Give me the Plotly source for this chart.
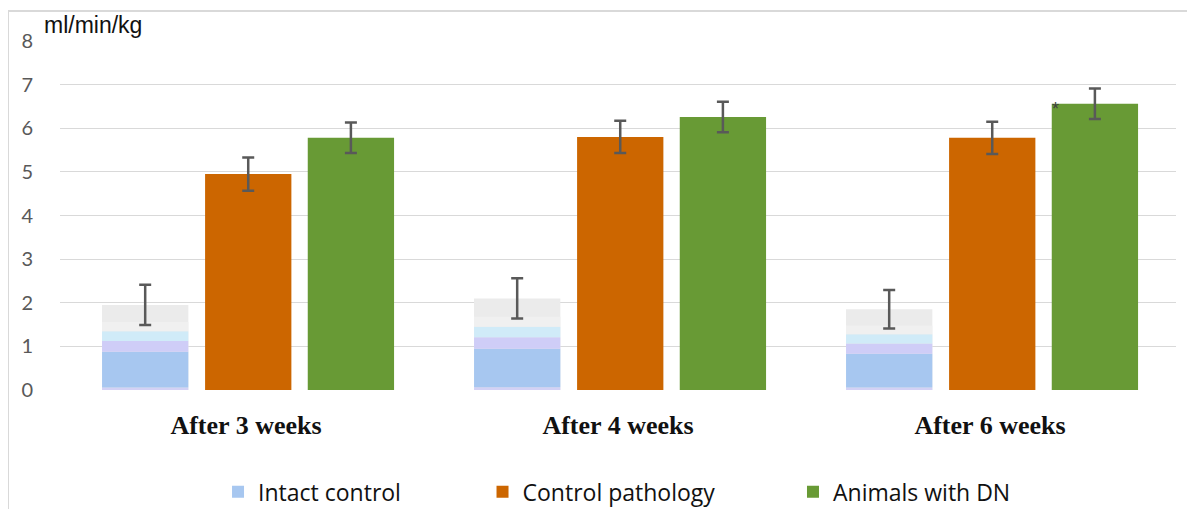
import plotly.graph_objects as go

categories = ["After 3 weeks", "After 4 weeks", "After 6 weeks"]
intact = [1.95, 2.10, 1.85]
intact_err = [0.46, 0.46, 0.44]
pathology = [4.95, 5.80, 5.78]
pathology_err = [0.38, 0.37, 0.37]
dn = [5.78, 6.26, 6.56]
dn_err = [0.35, 0.35, 0.35]
series_names = ["Intact control", "Control pathology", "Animals with DN"]
y_unit = "ml/min/kg"

W = 0.232
OFF = [-0.387, -0.11, 0.166]
ERR_COLOR = "#595959"

fig = go.Figure()

def err(vals):
    return dict(type="data", array=vals, visible=True, color=ERR_COLOR, thickness=2.5, width=6)

# Intact control: full bar (top gray part)
fig.add_trace(go.Bar(x=categories, y=intact, width=W, offset=OFF[0],
                     marker=dict(color="#ebebeb", line=dict(width=0)),
                     showlegend=False, hoverinfo="skip"))
# gradient-like bands inside intact bar (fractions of bar height)
bands = [
    (0.0, 0.03, "#d3d1f5"),
    (0.03, 0.45, "#a7c7f0"),
    (0.45, 0.575, "#cfcdf7"),
    (0.575, 0.69, "#d0ebf8"),
    (0.69, 0.80, "#f0f0f0"),
]
for i, (a, b, c) in enumerate(bands):
    fig.add_trace(go.Bar(x=categories, y=[v * (b - a) for v in intact],
                         base=[v * a for v in intact], width=W, offset=OFF[0],
                         marker=dict(color=c, line=dict(width=0)),
                         name=series_names[0], showlegend=(i == 1), legend="legend",
                         hoverinfo="skip"))
# error bars for intact control drawn on top
fig.add_trace(go.Bar(x=categories, y=intact, width=W, offset=OFF[0],
                     marker=dict(color="rgba(0,0,0,0)", line=dict(width=0)),
                     error_y=err(intact_err), showlegend=False, hoverinfo="skip"))

fig.add_trace(go.Bar(x=categories, y=pathology, width=W, offset=OFF[1],
                     marker=dict(color="#cc6600", line=dict(width=0)),
                     error_y=err(pathology_err), name=series_names[1], legend="legend2"))
fig.add_trace(go.Bar(x=categories, y=dn, width=W, offset=OFF[2],
                     marker=dict(color="#689a35", line=dict(width=0)),
                     error_y=err(dn_err), name=series_names[2], legend="legend3"))

legfont = dict(family="Open Sans", size=23, color="#111111")
LEG_Y = -0.292
fig.update_layout(
    width=1179, height=501,
    barmode="overlay",
    paper_bgcolor="white", plot_bgcolor="white",
    margin=dict(l=52, r=11, t=33, b=119, autoexpand=False),
    xaxis=dict(type="category", range=[-0.5, 2.5], showgrid=False, showline=False,
               automargin=False,
               ticks="outside", ticklen=12, tickcolor="rgba(0,0,0,0)",
               tickfont=dict(family="Liberation Serif", size=26, color="#111111", weight="bold")),
    yaxis=dict(range=[0, 8], dtick=1, showgrid=True, gridcolor="#d9d9d9", gridwidth=1,
               zeroline=False, showline=False, automargin=False,
               ticks="outside", ticklen=22, tickcolor="rgba(0,0,0,0)",
               tickfont=dict(family="Lato", size=20, color="#595959")),
    legend=dict(orientation="h", x=0.1416, y=LEG_Y, xanchor="left", yanchor="middle", font=legfont),
    legend2=dict(orientation="h", x=0.3786, y=LEG_Y, xanchor="left", yanchor="middle", font=legfont),
    legend3=dict(orientation="h", x=0.6568, y=LEG_Y, xanchor="left", yanchor="middle", font=legfont),
    annotations=[
        dict(text=y_unit, xref="paper", yref="paper", x=-0.016, y=1.045, xanchor="left",
             yanchor="middle", showarrow=False,
             font=dict(family="Liberation Sans", size=23, color="#111111")),
        dict(text="*", x=2.175, y=6.44, xref="x", yref="y", showarrow=False,
             font=dict(family="Liberation Sans", size=18, color="#404040")),
    ],
    shapes=[
        dict(type="line", xref="paper", yref="paper", x0=-0.0466, x1=1.03, y0=1.086, y1=1.086,
             line=dict(color="#d9d9d9", width=2)),
        dict(type="line", xref="paper", yref="paper", x0=-0.0466, x1=-0.0466, y0=1.086, y1=-0.4,
             line=dict(color="#d9d9d9", width=2)),
    ],
)

fig.write_html("out.html")
